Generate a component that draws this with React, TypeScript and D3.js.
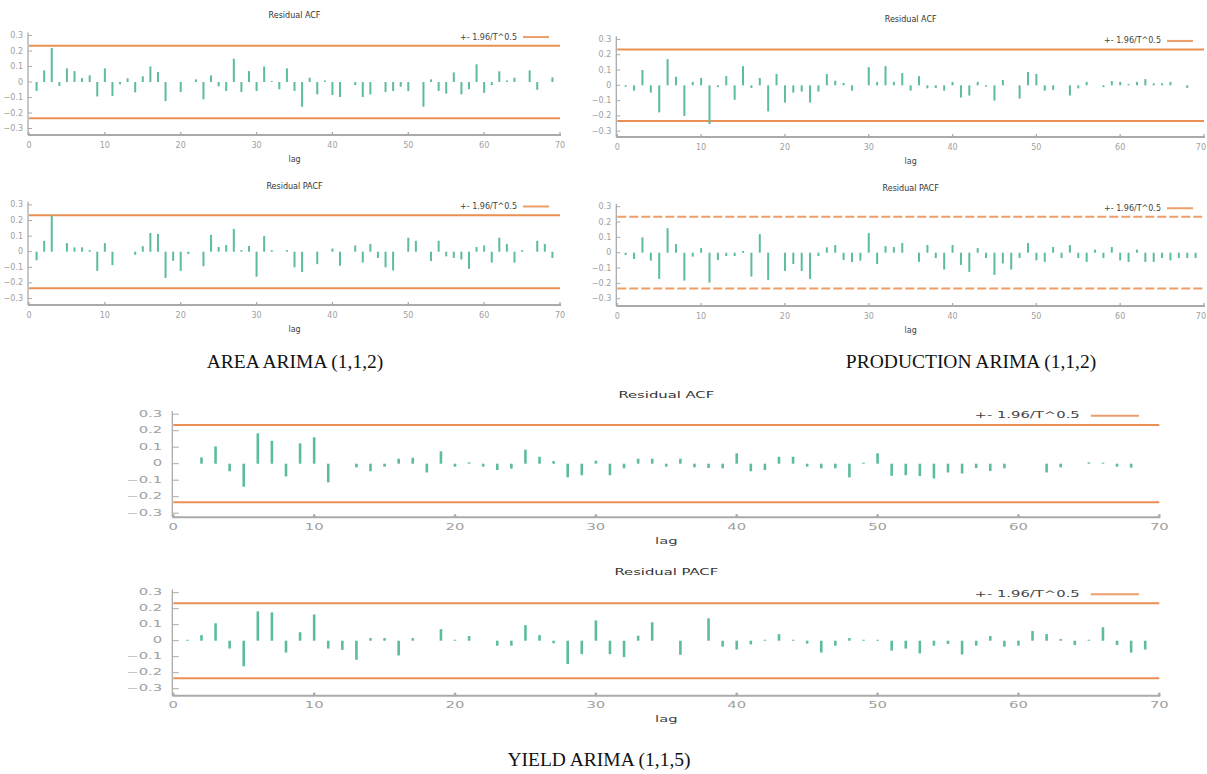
import React from "react";
import * as d3 from "d3";

// lags 1..70
const lags = d3.range(1, 71);

const areaAcf = [
  -0.058, 0.075, 0.22, -0.025, 0.088, 0.07, 0.025, 0.043, -0.093, 0.088,
  -0.09, -0.015, 0.024, -0.067, 0.037, 0.1, 0.065, -0.123, 0, -0.065,
  0, 0.017, -0.112, 0.043, -0.028, -0.058, 0.15, -0.065, 0.07, -0.058,
  0.1, 0.006, -0.047, 0.088, -0.058, -0.16, 0.028, -0.08, 0.01, -0.084,
  -0.097, 0, -0.02, -0.097, -0.08, 0, -0.065, -0.058, -0.03, -0.058,
  0, -0.16, 0.017, -0.058, -0.075, 0.062, -0.08, -0.047, 0.114, -0.07,
  -0.02, 0.069, 0.01, 0.028, 0, 0.075, -0.05, 0, 0.03, 0,
];

const areaPacf = [
  -0.055, 0.07, 0.232, 0, 0.055, 0.028, 0.028, 0.01, -0.123, 0.055,
  -0.086, 0, 0, -0.02, 0.035, 0.12, 0.114, -0.168, -0.058, -0.123,
  -0.015, 0, -0.093, 0.108, 0.03, 0.043, 0.146, 0.01, 0.037, -0.16,
  0.1, 0.01, 0, 0.01, -0.1, -0.13, 0, -0.08, 0, 0.02,
  -0.09, 0, 0.04, -0.07, 0.05, -0.04, -0.1, -0.12, 0, 0.09,
  0.07, 0, -0.06, 0.07, -0.03, -0.04, -0.05, -0.11, 0.03, 0.04,
  -0.07, 0.09, 0.05, -0.07, 0.01, 0, 0.07, 0.05, -0.04, 0,
];

const prodAcf = [
  -0.01, -0.035, 0.1, -0.048, -0.177, 0.171, 0.056, -0.2, 0.022, 0.048,
  -0.253, -0.012, 0.06, -0.095, 0.125, -0.017, 0.048, -0.171, 0.074, -0.113,
  -0.048, -0.041, -0.113, -0.041, 0.074, 0.03, 0.015, -0.035, 0, 0.119,
  0.022, 0.125, 0.022, 0.08, -0.035, 0.06, -0.02, -0.017, -0.035, 0.022,
  -0.08, -0.067, 0.022, -0.01, -0.1, 0.035, 0, -0.087, 0.087, 0.074,
  -0.035, -0.03, 0, -0.067, -0.02, 0.022, 0, -0.012, 0.028, 0.022,
  0.008, 0.022, 0.04, 0.013, 0.013, 0.022, 0, -0.017, 0, 0,
];

const prodPacf = [
  -0.015, -0.041, 0.1, -0.052, -0.171, 0.16, 0.056, -0.182, -0.026, 0.03,
  -0.195, -0.048, -0.022, -0.022, 0.011, -0.156, 0.121, -0.177, 0, -0.119,
  -0.074, -0.119, -0.171, -0.022, 0.035, 0.05, -0.048, -0.061, -0.052, 0.128,
  -0.074, 0.043, 0.037, 0.063, 0, -0.06, 0.05, -0.035, -0.11, 0.05,
  -0.08, -0.125, 0.03, -0.035, -0.145, -0.07, -0.11, -0.035, 0.063, -0.05,
  -0.06, 0.037, -0.035, 0.05, -0.035, -0.06, 0.02, -0.035, 0.037, -0.05,
  -0.06, 0.02, -0.06, -0.06, -0.035, -0.05, -0.035, -0.035, -0.035, 0,
];

const yieldAcf = [
  0, 0.038, 0.105, -0.046, -0.139, 0.184, 0.139, -0.077, 0.123, 0.16,
  -0.113, 0, -0.022, -0.046, -0.018, 0.03, 0.036, -0.053, 0.075, -0.018,
  0.008, -0.018, -0.038, -0.03, 0.085, 0.042, 0.016, -0.083, -0.07, 0.018,
  -0.07, -0.028, 0.03, 0.03, -0.018, 0.03, -0.022, -0.026, -0.028, 0.063,
  -0.046, -0.038, 0.042, 0.042, -0.018, -0.028, -0.028, -0.083, 0.006, 0.063,
  -0.073, -0.07, -0.075, -0.089, -0.053, -0.059, -0.026, -0.044, -0.028, 0,
  0, -0.053, -0.022, 0, 0.008, 0.006, -0.018, -0.024, 0, 0,
];

const yieldPacf = [
  0.006, 0.035, 0.109, -0.049, -0.16, 0.183, 0.177, -0.074, 0.053, 0.164,
  -0.049, -0.057, -0.119, 0.016, 0.016, -0.092, 0.016, 0, 0.072, 0.006,
  0.029, 0, -0.031, -0.031, 0.097, 0.035, -0.016, -0.146, -0.084, 0.127,
  -0.084, -0.103, 0.031, 0.115, 0, -0.088, 0, 0.14, -0.037, -0.055,
  -0.023, 0.006, 0.041, 0.006, -0.018, -0.074, -0.031, 0.016, 0.006, 0.006,
  -0.062, -0.049, -0.08, -0.031, -0.02, -0.086, -0.031, 0.029, -0.037, -0.031,
  0.06, 0.041, 0.01, -0.027, 0.006, 0.084, -0.027, -0.074, -0.055, 0,
];

const yTicks = [0.3, 0.2, 0.1, 0, -0.1, -0.2, -0.3];
const xTicks = [0, 10, 20, 30, 40, 50, 60, 70];
const bound = 0.234; // 1.96 / sqrt(70)
const legendLabel = "+- 1.96/T^0.5";

const captions = ["AREA ARIMA (1,1,2)", "PRODUCTION ARIMA (1,1,2)", "YIELD ARIMA (1,1,5)"];

const GREEN = "#5dbd98";
const ORANGE = "#ea8f52";
const GREY = "#aaaaaa";
const FONT = "DejaVu Sans, sans-serif";

type Layout = {
  x0: number; x70: number; zero: number; unit: number; bottom: number;
  titleY: number; sx: number;
};

const T = ({ x, y, sx, anchor, fill, size, children }: any) => (
  <text
    transform={`translate(${x},${y}) scale(${sx},1)`}
    textAnchor={anchor}
    dominantBaseline="middle"
    fill={fill}
    fontSize={size}
    fontFamily={FONT}
  >
    {children}
  </text>
);

const Panel = ({ lay, values, title, dashed }: { lay: Layout; values: number[]; title: string; dashed?: boolean }) => {
  const x = d3.scaleLinear().domain([0, 70]).range([lay.x0, lay.x70]);
  const y = d3.scaleLinear().domain([0, 0.1]).range([lay.zero, lay.zero - lay.unit]);
  const sx = lay.sx;
  const cx = (lay.x0 + lay.x70) / 2;
  const fmt = (v: number) => (v === 0 ? "0" : d3.format(".1f")(v));
  const legY = y(0.29);
  const legEnd = lay.x70 - 11 * sx;
  const legStart = legEnd - 26 * sx;
  return (
    <g>
      <T x={cx} y={lay.titleY} sx={sx} anchor="middle" fill="#333" size={8}>{title}</T>
      {/* y axis */}
      <line x1={lay.x0 - 1} x2={lay.x0 - 1} y1={y(0.32)} y2={lay.bottom} stroke={GREY} strokeWidth={1.3} />
      {yTicks.map(t => (
        <g key={t}>
          <line x1={lay.x0 - 1} x2={lay.x0 + 3 * sx} y1={y(t)} y2={y(t)} stroke={GREY} strokeWidth={1} />
          <T x={lay.x0 - 6 * sx} y={y(t)} sx={sx} anchor="end" fill="#a0a0a0" size={8}>{fmt(t)}</T>
        </g>
      ))}
      {/* x axis */}
      <line x1={lay.x0 - 1} x2={lay.x70 + 1} y1={lay.bottom} y2={lay.bottom} stroke={GREY} strokeWidth={2} />
      {xTicks.map(t => {
        const nearEdge = x(t) + 6 * sx > 1206;
        return (
          <g key={t}>
            <line x1={x(t)} x2={x(t)} y1={lay.bottom - 3} y2={lay.bottom} stroke={GREY} strokeWidth={1.3 * sx} />
            <T x={nearEdge ? 1206 : x(t)} y={lay.bottom + 10} sx={sx} anchor={nearEdge ? "end" : "middle"}
              fill="#a0a0a0" size={8}>{t}</T>
          </g>
        );
      })}
      <T x={cx} y={lay.bottom + 24} sx={sx} anchor="middle" fill="#444" size={8}>lag</T>
      {/* confidence bands */}
      {[bound, -bound].map(b => (
        <line key={b} x1={lay.x0} x2={lay.x70} y1={y(b)} y2={y(b)} stroke={ORANGE}
          strokeWidth={2} strokeDasharray={dashed ? "9,3" : undefined} opacity={dashed ? 0.85 : 1} />
      ))}
      {/* legend */}
      <T x={legStart - 6 * sx} y={legY} sx={sx} anchor="end" fill="#444" size={8}>{legendLabel}</T>
      <line x1={legStart} x2={legEnd} y1={legY} y2={legY} stroke={ORANGE} strokeWidth={2} opacity={0.85} />
      {/* bars */}
      {lags.map((k, i) => {
        const v = values[i];
        if (!v) return null;
        const w = 2 * Math.min(sx, 1.3);
        return (
          <rect key={k} x={x(k) - w / 2} width={w}
            y={Math.min(y(0), y(v))} height={Math.abs(y(v) - y(0))} fill={GREEN} />
        );
      })}
    </g>
  );
};

const layouts: Layout[] = [
  { x0: 29, x70: 560, zero: 82, unit: 15.5, bottom: 135, titleY: 15, sx: 1 },
  { x0: 29, x70: 560, zero: 251.7, unit: 15.6, bottom: 305, titleY: 186, sx: 1 },
  { x0: 617.3, x70: 1204, zero: 85.3, unit: 15.3, bottom: 137, titleY: 19, sx: 1 },
  { x0: 617.3, x70: 1204, zero: 252.7, unit: 15.33, bottom: 306, titleY: 188, sx: 1 },
  { x0: 173.3, x70: 1159.3, zero: 463.7, unit: 16.5, bottom: 517.3, titleY: 396, sx: 1.85 },
  { x0: 173.3, x70: 1159.3, zero: 640.7, unit: 16.0, bottom: 695.7, titleY: 573, sx: 1.85 },
];

export default function App() {
  return (
    <svg width={1207} height={774} style={{ position: "absolute", left: 0, top: 0, background: "#fff" }}>
      <rect width={1207} height={774} fill="#fff" />
      <Panel lay={layouts[0]} values={areaAcf} title="Residual ACF" />
      <Panel lay={layouts[1]} values={areaPacf} title="Residual PACF" />
      <Panel lay={layouts[2]} values={prodAcf} title="Residual ACF" />
      <Panel lay={layouts[3]} values={prodPacf} title="Residual PACF" dashed />
      <Panel lay={layouts[4]} values={yieldAcf} title="Residual ACF" />
      <Panel lay={layouts[5]} values={yieldPacf} title="Residual PACF" />
      <g fontFamily="Liberation Serif, Times New Roman, serif" fontSize={19.5} fill="#111" textAnchor="middle">
        <text x={295} y={368}>{captions[0]}</text>
        <text x={971} y={368}>{captions[1]}</text>
        <text x={599} y={766}>{captions[2]}</text>
      </g>
    </svg>
  );
}
